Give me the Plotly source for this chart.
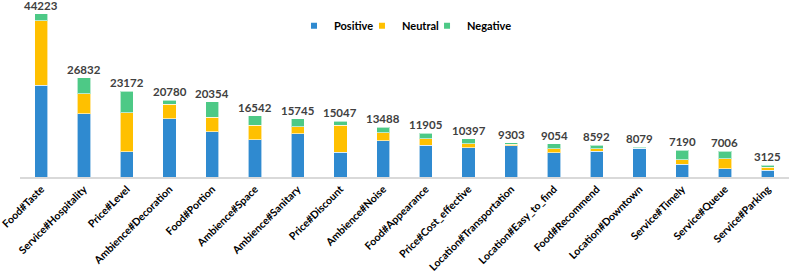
import plotly.graph_objects as go

categories = ["Food#Taste", "Service#Hospitality", "Price#Level", "Ambience#Decoration",
              "Food#Portion", "Ambience#Space", "Ambience#Sanitary", "Price#Discount",
              "Ambience#Noise", "Food#Appearance", "Price#Cost_effective",
              "Location#Transportation", "Location#Easy_to_find", "Food#Recommend",
              "Location#Downtown", "Service#Timely", "Service#Queue", "Service#Parking"]
totals = [44223, 26832, 23172, 20780, 20354, 16542, 15745, 15047, 13488, 11905,
          10397, 9303, 9054, 8592, 8079, 7190, 7006, 3125]
neutral = [17360, 5420, 10580, 3980, 3980, 3890, 1900, 7320, 2170, 1810,
           1175, 450, 1085, 720, 90, 1265, 2710, 720]
negative = [1990, 4250, 5790, 1085, 4160, 2530, 2170, 1085, 1540, 1540,
            1360, 450, 1450, 905, 270, 2530, 2080, 540]
positive = [t - n - g for t, n, g in zip(totals, neutral, negative)]

series = [("Positive", positive, "#2F8AD0"),
          ("Neutral", neutral, "#FFC000"),
          ("Negative", negative, "#4DC986")]
legend_ids = ["legend", "legend2", "legend3"]
legend_x = [0.3563, 0.4447, 0.5293]

fig = go.Figure()
for name, vals, col in series:
    fig.add_trace(go.Bar(x=categories, y=vals, name=name, showlegend=False,
                         marker=dict(color=col, line=dict(color="rgba(255,255,255,0.6)", width=1))))
# legend-only entries with small square symbols
for (name, vals, col), lid in zip(series, legend_ids):
    fig.add_trace(go.Scatter(x=[None], y=[None], mode="markers", name=name, legend=lid,
                             marker=dict(symbol="square", size=6, color=col)))

for c, t in zip(categories, totals):
    fig.add_annotation(x=c, y=t, text=str(t), showarrow=False, yanchor="bottom", yshift=0,
                       font=dict(family="Lato", size=11.5, color="#404040", weight="bold"))

legend_style = dict(orientation="h", y=0.89, xanchor="left", yanchor="middle",
                    font=dict(family="Lato", size=11, color="#000000", weight="bold"),
                    itemwidth=30, bgcolor="rgba(0,0,0,0)", itemsizing="trace")
layout_legends = {lid: dict(legend_style, x=lx) for lid, lx in zip(legend_ids, legend_x)}

fig.update_layout(
    barmode="stack", bargap=0.69,
    width=789, height=272,
    margin=dict(l=20, r=0, t=7, b=95, autoexpand=False),
    plot_bgcolor="white", paper_bgcolor="white",
    showlegend=True,
    xaxis=dict(tickangle=-45, showline=True, linecolor="#D9D9D9", linewidth=2,
               tickfont=dict(family="Lato", size=10.5, color="#000000", weight="bold"),
               showgrid=False, ticks="", automargin=False),
    yaxis=dict(range=[0, 46000], visible=False, showgrid=False, automargin=False),
    **layout_legends,
)
fig.write_html("out.html", config={"displayModeBar": False},
               post_script="document.body.style.margin='0';document.body.style.overflow='hidden';")
